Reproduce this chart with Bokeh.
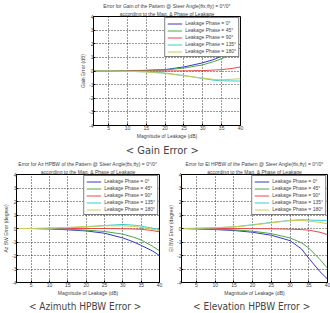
from bokeh.plotting import figure
from bokeh.models import Title, Legend, LegendItem, FixedTicker, Range1d
from bokeh.layouts import column, row
from bokeh.embed import file_html
from bokeh.resources import INLINE

# Leakage magnitude samples (dB)
leak_db = [1, 5, 10, 15, 20, 25, 30, 33, 35, 38, 40]
phase_labels = ["Leakage Phase = 0°", "Leakage Phase = 45°", "Leakage Phase = 90°",
                "Leakage Phase = 135°", "Leakage Phase = 180°"]
phase_colors = ["#3838c8", "#4aa84a", "#e84848", "#3ccccc", "#cccc58"]

# Gain error (dB) per leakage phase
gain_0 = [0, 0, 0.02, 0.05, 0.1, 0.3, 0.6, 0.85, 1.1, 1.55, 2.0]
gain_45 = [0, 0, 0.02, 0.04, 0.08, 0.22, 0.45, 0.7, 0.9, 1.3, 1.7]
gain_90 = [0, 0, 0, 0, 0, 0.01, 0.03, 0.07, 0.1, 0.2, 0.3]
gain_135 = [0, 0, -0.02, -0.06, -0.15, -0.33, -0.55, -0.68, -0.72, -0.73, -0.74]
gain_180 = [0, 0, -0.02, -0.07, -0.18, -0.35, -0.52, -0.62, -0.65, -0.6, -0.57]

# Azimuth HPBW error (degree)
az_0 = [0, 0, -0.03, -0.1, -0.18, -0.35, -0.7, -1.0, -1.25, -1.65, -2.0]
az_45 = [0, 0, -0.02, -0.06, -0.12, -0.22, -0.42, -0.65, -0.85, -1.3, -1.65]
az_90 = [0, 0, 0, 0, 0, 0, -0.02, -0.04, -0.06, -0.15, -0.25]
az_135 = [0, 0, 0.02, 0.05, 0.12, 0.22, 0.3, 0.25, 0.18, 0.03, -0.08]
az_180 = [0, 0, 0.03, 0.08, 0.15, 0.2, 0.2, 0.15, 0.08, -0.05, -0.15]

# Elevation HPBW error (degree)
el_0 = [0, -0.03, -0.08, -0.15, -0.28, -0.5, -0.9, -1.5, -2.2, -3.2, -3.75]
el_45 = [0, -0.02, -0.05, -0.1, -0.2, -0.38, -0.7, -1.05, -1.45, -2.3, -2.95]
el_90 = [0, 0, 0, 0, -0.01, -0.02, -0.05, -0.08, -0.12, -0.28, -0.45]
el_135 = [0, 0.01, 0.05, 0.12, 0.28, 0.45, 0.6, 0.65, 0.63, 0.6, 0.6]
el_180 = [0, 0.02, 0.06, 0.12, 0.25, 0.42, 0.58, 0.6, 0.55, 0.45, 0.35]

x_ticks = [5, 10, 15, 20, 25, 30, 35, 40]
y_ticks = [-4, -3, -2, -1, 0, 1, 2, 3, 4]
y_tick_text = {t: str(t) for t in y_ticks}

FONT = "Liberation Sans"
CAPTION_FONT = "Liberation Sans Narrow, DejaVu Sans Condensed, sans-serif"


def panel(line1, line2, ylabel, caption, cap_size, series, w, h, left, right, top, bottom):
    p = figure(width=w, height=h,
               min_border_left=left, min_border_right=right,
               min_border_top=top, min_border_bottom=bottom,
               x_range=Range1d(1, 40), y_range=Range1d(-4, 4),
               output_backend="svg", toolbar_location=None, title=None)
    p.background_fill_color = "white"
    p.border_fill_color = "white"
    p.outline_line_color = "black"
    p.outline_line_width = 1

    items = []
    for ys, lab, col in zip(series, phase_labels, phase_colors):
        r = p.line(leak_db, ys, line_color=col, line_width=1)
        items.append(LegendItem(label=lab, renderers=[r]))

    leg = Legend(items=items, location="top_right",
                 label_text_font=FONT, label_text_font_size="5px",
                 label_height=5, label_standoff=3,
                 glyph_width=15, glyph_height=5, spacing=1,
                 padding=2, margin=1,
                 border_line_color="black", border_line_width=1,
                 background_fill_color="white", background_fill_alpha=1)
    p.add_layout(leg)

    for ax in (p.xaxis[0], p.yaxis[0]):
        ax.major_label_text_font = FONT
        ax.major_label_text_font_size = "5px"
        ax.axis_label_text_font = FONT
        ax.axis_label_text_font_size = "5px"
        ax.axis_label_text_font_style = "normal"
        ax.major_tick_in = 2
        ax.major_tick_out = 0
        ax.minor_tick_in = 0
        ax.minor_tick_out = 0
        ax.major_label_standoff = 0
        ax.axis_label_standoff = 0
        ax.axis_line_color = "black"
    p.xaxis.ticker = FixedTicker(ticks=x_ticks)
    p.yaxis.ticker = FixedTicker(ticks=y_ticks)
    p.yaxis.major_label_overrides = y_tick_text
    p.xaxis.axis_label = "Magnitude of Leakage (dB)"
    p.yaxis.axis_label = ylabel

    p.xgrid.ticker = FixedTicker(ticks=x_ticks)
    p.ygrid.ticker = FixedTicker(ticks=y_ticks)
    for g in (p.xgrid[0], p.ygrid[0]):
        g.grid_line_color = "black"
        g.grid_line_dash = "1 2"
        g.grid_line_alpha = 0.8

    p.add_layout(Title(text=line2, align="center", text_font=FONT,
                       text_font_size="5px", text_font_style="normal",
                       standoff=0, offset=0), "above")
    p.add_layout(Title(text=line1, align="center", text_font=FONT,
                       text_font_size="5px", text_font_style="normal",
                       standoff=0, offset=0), "above")
    p.add_layout(Title(text=caption, align="center", text_font=CAPTION_FONT,
                       text_font_size=cap_size, text_font_style="normal",
                       standoff=0, offset=0), "below")
    return p


sub = "according to the Mag. & Phase of Leakage"
top = panel("Error for Gain of the Pattern @ Steer Angle(θx,θy) = 0°/0°", sub,
            "Gain Error (dB)", "<  Gain  Error  >", "11px",
            [gain_0, gain_45, gain_90, gain_135, gain_180],
            330, 158, 93, 90, 16, 33)
az = panel("Error for Az HPBW of the Pattern @ Steer Angle(θx,θy) = 0°/0°", sub,
           "Az BW Error (degree)", "< Azimuth  HPBW  Error >", "10px",
           [az_0, az_45, az_90, az_135, az_180],
           165, 155, 13, 6, 15, 31)
el = panel("Error for El HPBW of the Pattern @ Steer Angle(θx,θy) = 0°/0°", sub,
           "El BW Error (degree)", "< Elevation  HPBW  Error >", "10px",
           [el_0, el_45, el_90, el_135, el_180],
           165, 155, 13, 3, 15, 31)

layout = column(top, row(az, el))
open("out.html", "w").write(file_html(layout, INLINE))
